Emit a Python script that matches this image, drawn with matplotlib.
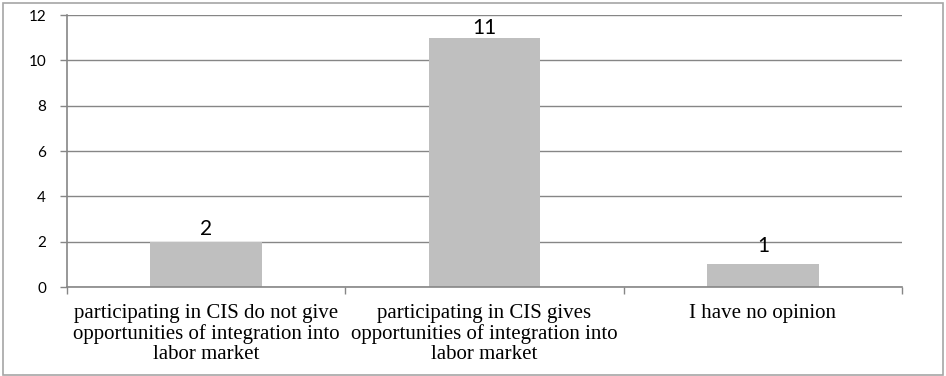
import numpy as np
import matplotlib
matplotlib.use("Agg")
import matplotlib.pyplot as plt
from matplotlib.patches import Rectangle

categories = [
    "participating in CIS do not give\nopportunities of integration into\nlabor market",
    "participating in CIS gives\nopportunities of integration into\nlabor market",
    "I have no opinion",
]
values = [2, 11, 1]
y_ticks = [0, 2, 4, 6, 8, 10, 12]

grid_c = "#868686"
bar_c = "#BFBFBF"


def main():
    fig = plt.figure(figsize=(9.46, 3.76), dpi=100)
    ax = fig.add_axes([0.0708, 0.2367, 0.8827, 0.7233])

    x = np.arange(len(values))
    bars = ax.bar(x, values, width=0.40, color=bar_c, zorder=2)

    ax.set_xlim(-0.5, len(values) - 0.5)
    ax.set_ylim(0, 12)
    ax.set_yticks(y_ticks)
    ax.set_yticklabels([str(t) for t in y_ticks], family=["Lato", "DejaVu Sans"], fontsize=11)
    ax.yaxis.grid(True, color=grid_c, linewidth=1, zorder=0)
    ax.set_axisbelow(True)

    # category boundaries carry the ticks, labels sit in the middle
    ax.set_xticks(np.arange(len(values) + 1) - 0.5)
    ax.set_xticklabels([])
    ax.set_xticks(x, minor=True)
    ax.set_xticklabels(categories, minor=True, family="Liberation Serif",
                       fontsize=15, linespacing=1.1)
    ax.tick_params(axis="x", which="minor", length=0, pad=12)
    ax.tick_params(axis="x", which="major", length=5, color=grid_c, width=1)
    ax.tick_params(axis="y", length=5, color=grid_c, width=1, pad=10)

    for s in ["top", "right"]:
        ax.spines[s].set_visible(False)
    for s in ["left", "bottom"]:
        ax.spines[s].set_color(grid_c)
        ax.spines[s].set_linewidth(1.2)

    offsets = [2, 0, 6]
    for b, v, off in zip(bars, values, offsets):
        ax.annotate(str(v), (b.get_x() + b.get_width() / 2, v), xytext=(0, off),
                    textcoords="offset points", ha="center", va="bottom",
                    family=["Lato", "DejaVu Sans"], fontsize=15)

    fig.patches.append(Rectangle((0.003, 0.003), 0.994, 0.989, transform=fig.transFigure,
                                 fill=False, edgecolor="#A6A6A6", linewidth=1.2))

    fig.savefig("out.png", dpi=100)


if __name__ == '__main__':
    main()
